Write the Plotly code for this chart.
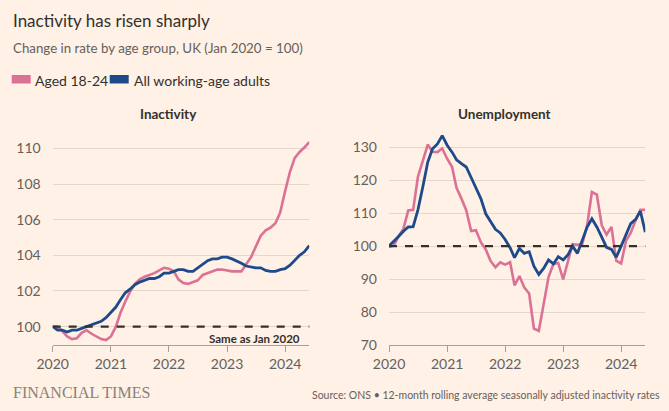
import pandas as pd
import plotly.graph_objects as go

W, H = 669, 411

# ---------------- data (monthly, Jan 2020 - Jun 2024) ----------------
months = pd.date_range("2020-01-01", "2024-06-01", freq="MS")

inact_young = [100.0, 100.0, 99.75, 99.45, 99.3, 99.35, 99.65, 99.8, 99.6, 99.45, 99.3, 99.25,
               99.45, 100.0, 100.75, 101.4, 101.95, 102.4, 102.65, 102.8, 102.9, 103.0, 103.15, 103.3,
               103.25, 103.1, 102.65, 102.45, 102.4, 102.5, 102.6, 102.9, 103.0, 103.1, 103.2, 103.2,
               103.15, 103.1, 103.1, 103.1, 103.5, 103.9, 104.5, 105.1, 105.4, 105.55, 105.8, 106.4,
               107.6, 108.7, 109.45, 109.8, 110.05, 110.35]
inact_all = [100.0, 99.8, 99.8, 99.7, 99.8, 99.8, 99.9, 100.0, 100.1, 100.2, 100.3, 100.5,
             100.8, 101.1, 101.5, 101.9, 102.1, 102.35, 102.5, 102.6, 102.7, 102.7, 102.8, 103.0,
             103.0, 103.1, 103.2, 103.2, 103.1, 103.1, 103.3, 103.5, 103.7, 103.8, 103.8, 103.9,
             103.9, 103.8, 103.7, 103.55, 103.4, 103.35, 103.3, 103.3, 103.15, 103.1, 103.1, 103.2,
             103.25, 103.45, 103.7, 104.0, 104.2, 104.55]

unemp_young = [99.7, 100.2, 103.0, 105.3, 110.8, 111.0, 121.0, 126.3, 130.8, 128.6, 128.5, 129.6,
               126.5, 124.0, 117.7, 114.4, 110.9, 104.6, 104.8, 101.2, 99.0, 95.5, 93.6, 95.1,
               94.4, 95.1, 88.1, 90.9, 87.5, 85.6, 75.0, 74.3, 82.5, 90.6, 94.6, 94.9,
               89.9, 96.0, 100.6, 100.4, 100.6, 106.3, 116.4, 115.6, 106.3, 103.5, 105.8, 95.6,
               94.7, 101.7, 104.0, 107.8, 111.0, 111.0]
unemp_all = [100.0, 101.4, 102.9, 104.5, 105.8, 105.9, 111.0, 118.0, 125.5, 129.5, 131.0, 133.5,
             130.6, 128.5, 126.2, 125.0, 124.0, 120.8, 117.7, 114.4, 109.8, 107.6, 105.1, 104.0,
             102.0, 99.5, 96.5, 99.3, 97.8, 98.3, 93.9, 91.4, 93.3, 95.8, 94.6, 96.8,
             95.8, 97.4, 100.0, 97.8, 101.7, 105.8, 108.3, 105.8, 102.7, 99.6, 99.0, 96.6,
             100.0, 103.5, 106.8, 108.1, 110.6, 104.2]

year_ticks = ["2020", "2021", "2022", "2023", "2024"]
inact_ticks = [100, 102, 104, 106, 108, 110]
unemp_ticks = [70, 80, 90, 100, 110, 120, 130]
baseline = 100

series_names = ["Aged 18-24", "All working-age adults"]

# ---------------- styles ----------------
BG = "#FFF1E5"
PINK = "#DB7194"
BLUE = "#1E4A8C"
INK = "#33302E"
GREY = "#66605C"
GRID = "#E4D8CC"
AXIS = "#A89E95"
FONT = "Lato, Roboto, sans-serif"
TICKFONT = "Lato, Roboto, sans-serif"


def px(x):
    return x / W


def py(y):
    return 1 - y / H


fig = go.Figure()

for xa, ya, young, allw in [("x", "y", inact_young, inact_all),
                            ("x2", "y2", unemp_young, unemp_all)]:
    fig.add_trace(go.Scatter(x=months, y=young, mode="lines", name=series_names[0],
                             line=dict(color=PINK, width=2.6), xaxis=xa, yaxis=ya,
                             showlegend=False))
    fig.add_trace(go.Scatter(x=months, y=allw, mode="lines", name=series_names[1],
                             line=dict(color=BLUE, width=2.8), xaxis=xa, yaxis=ya,
                             showlegend=False))

xcommon = dict(
    type="date",
    range=[months[0], months[-1]],
    tickvals=[f"{y}-01-01" for y in year_ticks],
    ticktext=year_ticks,
    ticks="outside", ticklen=6, tickcolor=AXIS, tickwidth=1,
    showline=True, linecolor=AXIS, linewidth=1,
    showgrid=False, zeroline=False, automargin=False,
    tickfont=dict(family=TICKFONT, size=14, color=GREY),
    fixedrange=True,
)
ycommon = dict(
    showgrid=True, gridcolor=GRID, gridwidth=1,
    zeroline=False, showline=False, ticks="", automargin=False,
    ticklabelstandoff=11,
    tickfont=dict(family=TICKFONT, size=14, color=GREY),
    fixedrange=True,
)

y_dom = [py(345), py(135)]

fig.update_layout(
    width=W, height=H,
    margin=dict(l=0, r=0, t=0, b=0),
    paper_bgcolor=BG, plot_bgcolor=BG,
    showlegend=False,
    xaxis=dict(domain=[px(52.7), px(309.3)], anchor="y", **xcommon),
    xaxis2=dict(domain=[px(389), px(645.3)], anchor="y2", **xcommon),
    yaxis=dict(domain=y_dom, anchor="x", range=[98.97, 110.75],
               tickvals=inact_ticks, **ycommon),
    yaxis2=dict(domain=y_dom, anchor="x2", range=[70, 133.7],
                tickvals=unemp_ticks, **ycommon),
)

# dashed "same as Jan 2020" reference lines
for xr, yr in [("x domain", "y"), ("x2 domain", "y2")]:
    fig.add_shape(type="line", xref=xr, yref=yr, x0=0, x1=1, y0=baseline, y1=baseline,
                  line=dict(color=INK, width=2.2, dash="8px,8px"), layer="above")

# legend swatches (manual)
legend_items = [(11.7, 30.7, 33, PINK, series_names[0]),
                (109.7, 128.7, 131.5, BLUE, series_names[1])]
for x0, x1, tx, col, label in legend_items:
    fig.add_shape(type="rect", xref="paper", yref="paper",
                  x0=px(x0), x1=px(x1), y0=py(83.5), y1=py(75),
                  fillcolor=col, line=dict(width=0))
    fig.add_annotation(xref="paper", yref="paper", x=px(tx), y=py(80.5),
                       xanchor="left", yanchor="middle", showarrow=False,
                       text=label, font=dict(family=FONT, size=14, color=INK))

# title, subtitle
fig.add_annotation(xref="paper", yref="paper", x=px(10.5), y=py(20),
                   xanchor="left", yanchor="middle", showarrow=False,
                   text="Inactivity has risen sharply",
                   font=dict(family=FONT, size=17, color=INK))
fig.add_annotation(xref="paper", yref="paper", x=px(10.5), y=py(48),
                   xanchor="left", yanchor="middle", showarrow=False,
                   text="Change in rate by age group, UK (Jan 2020 = 100)",
                   font=dict(family=FONT, size=13.3, color=GREY))

# panel titles
for cx, label in [(168, "Inactivity"), (504.5, "Unemployment")]:
    fig.add_annotation(xref="paper", yref="paper", x=px(cx), y=py(114),
                       xanchor="center", yanchor="middle", showarrow=False,
                       text=label, font=dict(family=FONT, size=13.5, color=INK, weight=700))

# baseline label
fig.add_annotation(xref="paper", yref="paper", x=px(302), y=py(338.5),
                   xanchor="right", yanchor="middle", showarrow=False,
                   text="Same as Jan 2020",
                   font=dict(family=FONT, size=11.5, color=INK, weight=700))

# footer
fig.add_annotation(xref="paper", yref="paper", x=px(11), y=py(392),
                   xanchor="left", yanchor="middle", showarrow=False,
                   text="FINANCIAL TIMES",
                   font=dict(family="'Liberation Serif', 'DejaVu Serif', serif", size=16,
                             color="#8A817A"))
fig.add_annotation(xref="paper", yref="paper", x=px(662), y=py(395),
                   xanchor="right", yanchor="middle", showarrow=False,
                   text="Source: ONS \u2022 12-month rolling average seasonally adjusted inactivity rates",
                   font=dict(family=FONT, size=10.5, color=GREY))

fig.write_html("out.html", config={"displayModeBar": False})
